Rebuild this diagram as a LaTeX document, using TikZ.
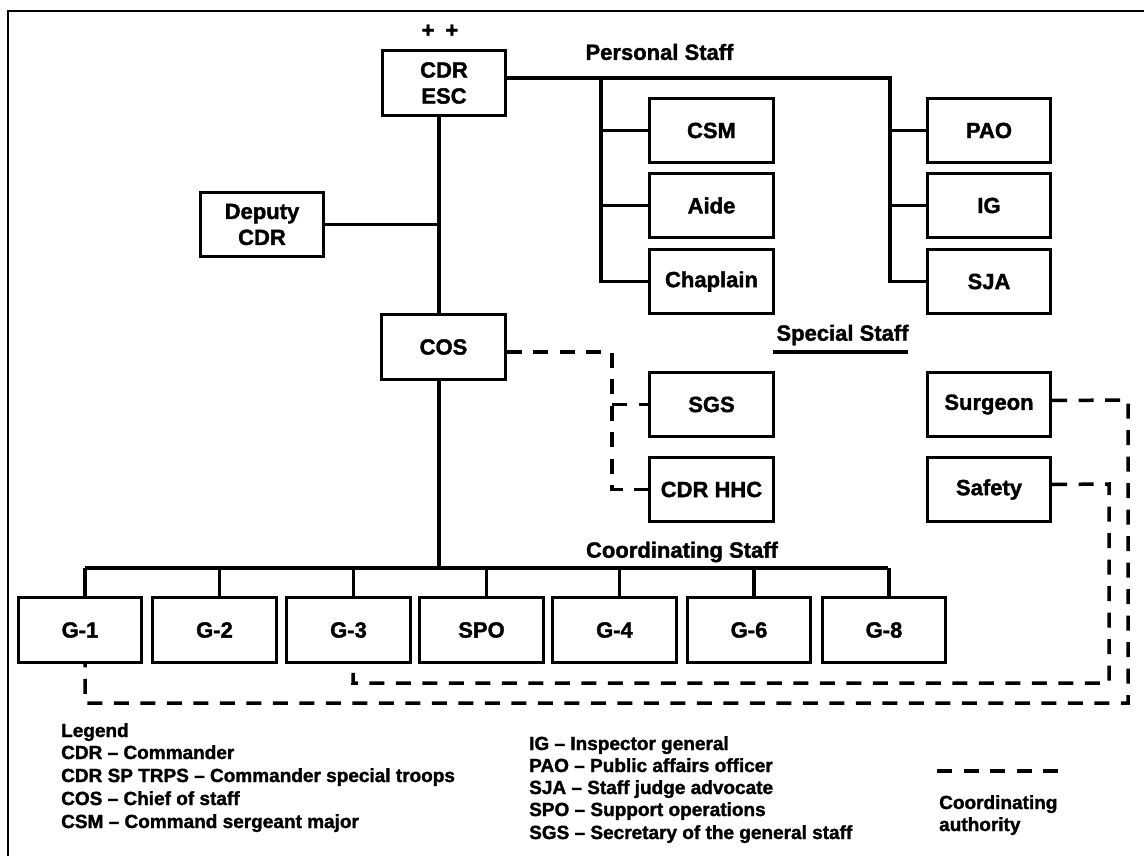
\documentclass[tikz,border=0pt]{standalone}
\usepackage{fontspec}
\setmainfont{Liberation Sans}[BoldFeatures={FakeBold=1.6}]
\begin{document}
\begin{tikzpicture}[x=1pt,y=-1pt,
  box/.style={draw,line width=2.9pt,minimum width=123.5pt,minimum height=64.5pt,inner sep=0pt,align=center,
    font=\bfseries\fontsize{22}{26}\selectfont},
  head/.style={font=\bfseries\fontsize{22}{26}\selectfont,inner sep=0pt},
  legtext/.style={font=\bfseries\fontsize{19}{22}\selectfont,inner sep=0pt,anchor=base west},
  link/.style={line width=3.5pt},
  coordline/.style={line width=3.5pt,dash pattern=on 15pt off 11.5pt},
]
\useasboundingbox (0,0) rectangle (1144,856);

% frame
\draw[line width=2.8pt] (8,860) -- (8,11) -- (1150,11);

% command group
\node[head] (stars) at (440,31) {+\hspace{0.5em}+};
\node[box] (cdr) at (444,83) {CDR\\ESC};
\node[box] (deputy) at (262,224.5) {Deputy\\CDR};
\node[box] (cos) at (443.5,347) {COS};

% personal staff
\node[head] (perslabel) at (659.5,52) {Personal Staff};
\node[box] (csm) at (711.5,130.5) {CSM};
\node[box] (aide) at (711.5,205.5) {Aide};
\node[box] (chaplain) at (711.5,281.5) {Chaplain};
\node[box] (pao) at (989,130.5) {PAO};
\node[box] (ig) at (989,205.5) {IG};
\node[box] (sja) at (989,281.5) {SJA};

% special staff
\node[head] (speclabel) at (842.5,335) {Special Staff};
\coordinate (specA) at (773,352);
\coordinate (specB) at (908,352);
\draw[line width=3.6pt] (specA) -- (specB);
\node[box] (sgs) at (711.5,404.5) {SGS};
\node[box] (cdrhhc) at (711.5,489.5) {CDR HHC};
\node[box] (surgeon) at (989,404.5) {Surgeon};
\node[box] (safety) at (989,489.5) {Safety};

% coordinating staff
\node[head] (coordlabel) at (682,552) {Coordinating Staff};
\node[box] (g1) at (80,630) {G-1};
\node[box] (g2) at (214.5,630) {G-2};
\node[box] (g3) at (348.5,630) {G-3};
\node[box] (spo) at (481.5,630) {SPO};
\node[box] (g4) at (614.5,630) {G-4};
\node[box] (g6) at (749,630) {G-6};
\node[box] (g8) at (884,630) {G-8};

% command line
\coordinate (spine) at (439,0);
\coordinate (bus) at (439,568);
\draw[link] (spine |- cdr.south) -- (spine |- cos.north);
\draw[link,line width=3pt] (deputy.east) -- (spine |- deputy.east);
\draw[link] (spine |- cos.south) -- (bus);

% personal staff lines
\coordinate (pl) at (601,78);
\coordinate (pr) at (890,78);
\draw[link] (cdr.east |- pl) -- (pr) -- (pr |- sja.west) -- (sja.west);
\draw[link] (pl) -- (pl |- chaplain.west) -- (chaplain.west);
\draw[link] (pl |- csm.west) -- (csm.west);
\draw[link] (pl |- aide.west) -- (aide.west);
\draw[link] (pr |- pao.west) -- (pao.west);
\draw[link] (pr |- ig.west) -- (ig.west);

% coordinating staff bus
\draw[link] ([xshift=5pt]g1.north |- bus) -- ([xshift=4pt]g8.north |- bus);
\foreach \n in {g1,g2,g3,spo,g4,g6,g8}
  \draw[link] ([xshift=5pt]\n.north |- bus) -- ([xshift=5pt]\n.north);

% coordinating authority (dashed)
\coordinate (dv) at (612,352);
\draw[coordline] ([yshift=-5pt]cos.east) -- (dv) -- (dv |- cdrhhc.west) -- (cdrhhc.west);
\draw[coordline] (dv |- sgs.west) -- (sgs.west);
\coordinate (sr) at (1128,400);
\coordinate (sb) at (85,703);
\draw[coordline] ([yshift=4pt]surgeon.east) -- (sr) -- (sr |- sb) -- (sb) -- ([xshift=5pt]g1.south);
\coordinate (fr) at (1109,484);
\coordinate (fb) at (353,683);
\draw[coordline] ([yshift=5pt]safety.east) -- (fr) -- (fr |- fb) -- (fb) -- ([xshift=5pt]g3.south);

% legend
\node[legtext] (leg0) at (61,737) {Legend};
\node[legtext] (leg1) at (61,759) {CDR -- Commander};
\node[legtext] (leg2) at (61,782) {CDR SP TRPS -- Commander special troops};
\node[legtext] (leg3) at (61,805) {COS -- Chief of staff};
\node[legtext] (leg4) at (61,828) {CSM -- Command sergeant major};
\node[legtext] (leg5) at (529,750) {IG -- Inspector general};
\node[legtext] (leg6) at (529,772) {PAO -- Public affairs officer};
\node[legtext] (leg7) at (529,794) {SJA -- Staff judge advocate};
\node[legtext] (leg8) at (529,816) {SPO -- Support operations};
\node[legtext] (leg9) at (529,839) {SGS -- Secretary of the general staff};
\coordinate (sampleA) at (937,771);
\coordinate (sampleB) at (1058,771);
\draw[coordline] (sampleA) -- (sampleB);
\node[legtext] (auth1) at (939,809) {Coordinating};
\node[legtext] (auth2) at (939,831) {authority};
\end{tikzpicture}
\end{document}
